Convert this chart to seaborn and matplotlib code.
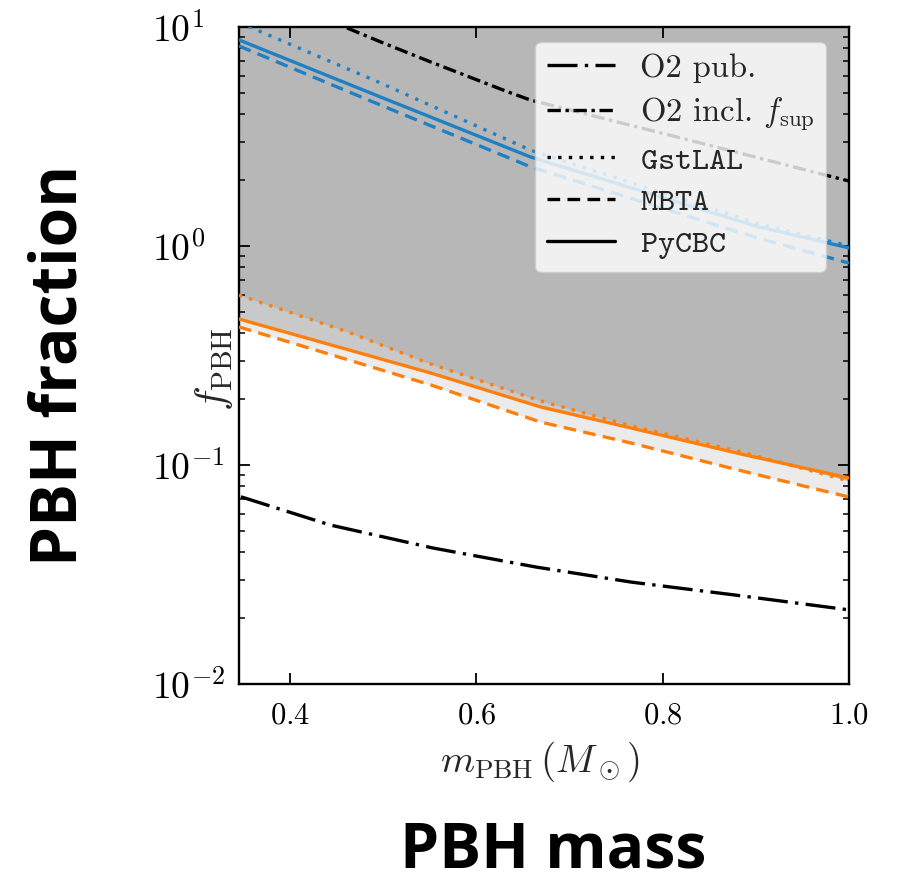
import numpy as np
import pandas as pd
import matplotlib
matplotlib.use("Agg")
import matplotlib.pyplot as plt
import seaborn as sns
from matplotlib.lines import Line2D

# ---------------- data ----------------
mass_o2_pub = [0.347, 0.443, 0.553, 0.664, 0.766, 0.877, 1.0]
f_o2_pub = [0.0716, 0.0532, 0.0418, 0.0342, 0.0292, 0.0255, 0.0218]

mass_o2_sup = [0.461, 0.500, 0.551, 0.634, 0.658, 0.820, 0.982, 1.0]
f_o2_sup = [9.9, 8.45, 6.92, 5.05, 4.64, 3.11, 2.07, 1.98]

mass_blue = [0.345, 0.497, 0.658, 0.901, 1.0]
gstlal_sup = [10.5, 5.55, 2.74, 1.27, 1.0]
mbta_sup = [8.19, 4.40, 2.30, 1.09, 0.836]
pycbc_sup = [8.73, 4.79, 2.55, 1.23, 0.98]

mass_orange = [0.345, 0.459, 0.551, 0.669, 0.766, 0.885, 1.0]
gstlal = [0.597, 0.409, 0.289, 0.196, 0.151, 0.1146, 0.0845]
mbta = [0.427, 0.305, 0.232, 0.157, 0.126, 0.094, 0.0714]
pycbc = [0.464, 0.339, 0.263, 0.184, 0.1476, 0.112, 0.0873]

legend_labels = ["O2 pub.", r"O2 incl. $f_{\rm sup}$", r"$\mathtt{GstLAL}$",
                 r"$\mathtt{MBTA}$", r"$\mathtt{PyCBC}$"]
x_ticks = [0.4, 0.6, 0.8, 1.0]
x_lim = (0.345, 1.0)
y_lim = (1e-2, 1e1)

# ---------------- styles ----------------
BLUE = "#1f80c4"
ORANGE = "#ff7f0e"
LW = 2.4
LS_PUB = (0, (9, 2.2, 1, 2.2))
LS_SUP = (0, (4, 1.4, 1, 1.4))
LS_DOT = (0, (1, 2.2))
LS_DASH = (0, (3.8, 2.2))
LS_SOLID = "-"

sns.set_theme(style="white")
plt.rcParams.update({
    "font.family": ["serif"],
    "font.serif": ["cmr10", "DejaVu Serif"],
    "mathtext.fontset": "cm",
    "axes.formatter.use_mathtext": True,
    "axes.unicode_minus": True,
})

fig = plt.figure(figsize=(9, 8.83), dpi=100)
ax = fig.add_axes([239 / 900, 1 - 684 / 883, 610 / 900, 657 / 883])
ax.set_facecolor("white")
ax.set_axisbelow(False)

# shaded exclusion bands (layered)
ax.fill_between(mass_orange, mbta, y_lim[1], color="#ebebeb", lw=0, zorder=1)
ax.fill_between(mass_orange, pycbc, y_lim[1], color="#c9c9c9", lw=0, zorder=1.1)
ax.fill_between(mass_orange, gstlal, y_lim[1], color="#b7b7b7", lw=0, zorder=1.2)


def draw(xs, ys, color, ls):
    sns.lineplot(x=xs, y=ys, color=color, lw=LW, ax=ax, zorder=3)
    line = ax.lines[-1]
    line.set_linestyle(ls)


draw(mass_o2_pub, f_o2_pub, "black", LS_PUB)
draw(mass_o2_sup, f_o2_sup, "black", LS_SUP)
draw(mass_blue, gstlal_sup, BLUE, LS_DOT)
draw(mass_blue, mbta_sup, BLUE, LS_DASH)
draw(mass_blue, pycbc_sup, BLUE, LS_SOLID)
draw(mass_orange, gstlal, ORANGE, LS_DOT)
draw(mass_orange, mbta, ORANGE, LS_DASH)
draw(mass_orange, pycbc, ORANGE, LS_SOLID)

ax.set_yscale("log")
ax.set_xlim(*x_lim)
ax.set_ylim(*y_lim)
ax.set_xticks(x_ticks)
ax.minorticks_on()
ax.xaxis.set_minor_locator(matplotlib.ticker.NullLocator())

ax.tick_params(which="both", direction="in", top=True, right=True,
               bottom=True, left=True, colors="black")
ax.tick_params(which="major", length=8, width=1.3)
ax.tick_params(which="minor", length=4.5, width=1.1)
ax.tick_params(axis="x", which="major", labelsize=22, pad=13)
ax.tick_params(axis="y", which="major", labelsize=27, pad=62.6)
for lab in ax.get_yticklabels():
    lab.set_horizontalalignment("left")
for s in ax.spines.values():
    s.set_linewidth(1.7)
    s.set_color("black")

ax.set_xlabel(r"$m_{\rm PBH}\,(M_\odot)$", fontsize=28)
ax.set_ylabel(r"$f_{\rm PBH}$", fontsize=30)
ax.xaxis.set_label_coords(0.493, -0.085)
ax.yaxis.set_label_coords(-0.006, 0.48)

handles = [
    Line2D([], [], color="black", lw=LW, ls=LS_PUB),
    Line2D([], [], color="black", lw=LW, ls=LS_SUP),
    Line2D([], [], color="black", lw=LW, ls=LS_DOT),
    Line2D([], [], color="black", lw=LW, ls=LS_DASH),
    Line2D([], [], color="black", lw=LW, ls=LS_SOLID),
]
leg = ax.legend(handles, legend_labels, loc="upper right",
                bbox_to_anchor=(0.986, 1.0), fontsize=23.5, handlelength=2.1,
                handletextpad=0.75, labelspacing=0.39, framealpha=0.8,
                fancybox=True, borderaxespad=0.45, borderpad=0.35)
leg.get_frame().set_edgecolor("0.8")
leg.set_zorder(10)

# big annotation labels
fig.text(60 / 900, 1 - 365 / 883, "PBH fraction", rotation=90, fontsize=46,
         fontweight="bold", family=["Open Sans", "DejaVu Sans"],
         ha="center", va="center", color="black")
fig.text(553 / 900, 1 - 851 / 883, "PBH mass", fontsize=45,
         fontweight="bold", family=["Open Sans", "DejaVu Sans"],
         ha="center", va="center", color="black")

fig.savefig("out.png", dpi=100)
